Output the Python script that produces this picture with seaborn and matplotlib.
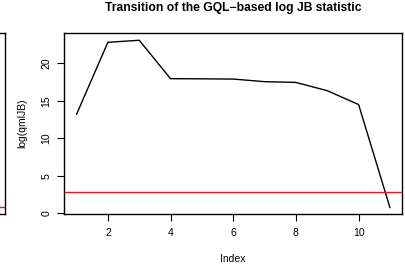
import matplotlib
matplotlib.use("Agg")
import matplotlib.pyplot as plt
import seaborn as sns
import pandas as pd

index = [1, 2, 3, 4, 5, 6, 7, 8, 9, 10, 11]
log_qmljb = [13.2, 22.8, 23.07, 17.95, 17.93, 17.9, 17.55, 17.45, 16.35, 14.5, 0.75]
threshold = 2.88
xticks = [2, 4, 6, 8, 10]
yticks = [0, 5, 10, 15, 20]
left_panel_threshold = 0.9

sns.set_style("white")
plt.rcParams['font.family'] = ['Liberation Sans', 'DejaVu Sans']
plt.rcParams['text.color'] = 'black'
plt.rcParams['axes.labelcolor'] = 'black'
plt.rcParams['xtick.color'] = 'black'
plt.rcParams['ytick.color'] = 'black'

W, H = 406, 278
fig = plt.figure(figsize=(W / 100, H / 100), dpi=100)

# fragment of the neighbouring panel on the left
axl = fig.add_axes([(-300) / W, (H - 213.7) / H, 304.5 / W, (213.7 - 33.3) / H])
axl.set_xlim(0, 1)
axl.set_ylim(0, 24)
axl.axhline(left_panel_threshold, color="#E8171D", lw=1)
axl.set_xticks([]); axl.set_yticks([])
for s in axl.spines.values():
    s.set_color("black"); s.set_linewidth(1)

ax = fig.add_axes([64 / W, (H - 213.7) / H, (402.5 - 64) / W, (213.7 - 33.3) / H])
df = pd.DataFrame({"Index": index, "log(qmlJB)": log_qmljb})
sns.lineplot(data=df, x="Index", y="log(qmlJB)", ax=ax, color="black", lw=1)
ax.axhline(threshold, color="#E8171D", lw=1)
ax.set_xlim(0.6, 11.4)
ax.set_ylim(-0.05, 24.0)
ax.set_xticks(xticks)
ax.set_yticks(yticks)
ax.set_yticklabels([str(v) for v in yticks], rotation=90, va="center")
ax.tick_params(axis="both", direction="out", length=5, width=0.8, color="black",
               labelcolor="black", labelsize=7.5, pad=4, bottom=True, left=True)
ax.tick_params(axis="x", pad=5)
for s in ax.spines.values():
    s.set_color("black"); s.set_linewidth(1)
ax.set_xlabel("Index", fontsize=7.5, labelpad=12, color="black")
ax.set_ylabel("log(qmlJB)", fontsize=7.5, labelpad=10, color="black")
fig.text(233 / W, 1 - 7.5 / H, "Transition of the GQL\u2212based log JB statistic",
         ha="center", va="center", fontsize=8.7, fontweight="bold", color="black")

fig.savefig("out.png", dpi=100)
